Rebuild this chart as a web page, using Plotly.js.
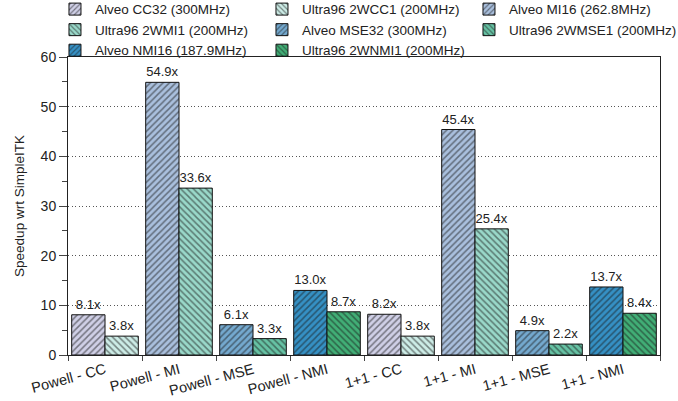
<!DOCTYPE html>
<html><head><meta charset="utf-8">
<script src="https://cdn.plot.ly/plotly-3.0.1.min.js"></script>
<style>html,body{margin:0;padding:0;background:#fff}#chart{width:678px;height:401px}</style>
</head><body><div id="chart"></div>
<script>
const categories = ["Powell - CC","Powell - MI","Powell - MSE","Powell - NMI","1+1 - CC","1+1 - MI","1+1 - MSE","1+1 - NMI"];
const seriesNames = ["Alveo CC32 (300MHz)","Ultra96 2WCC1 (200MHz)","Alveo MI16 (262.8MHz)","Ultra96 2WMI1 (200MHz)","Alveo MSE32 (300MHz)","Ultra96 2WMSE1 (200MHz)","Alveo NMI16 (187.9MHz)","Ultra96 2WNMI1 (200MHz)"];
const seriesCats = [["Powell - CC","1+1 - CC"],["Powell - CC","1+1 - CC"],["Powell - MI","1+1 - MI"],["Powell - MI","1+1 - MI"],["Powell - MSE","1+1 - MSE"],["Powell - MSE","1+1 - MSE"],["Powell - NMI","1+1 - NMI"],["Powell - NMI","1+1 - NMI"]];
const seriesValues = [[8.1,8.2],[3.8,3.8],[54.9,45.4],[33.6,25.4],[6.1,4.9],[3.3,2.2],[13.0,13.7],[8.7,8.4]];
const seriesColors = ["#cfcfe6","#ccece6","#a9bfdd","#99d8c9","#74a9cf","#66c2a4","#3590c4","#41ae76"];
const seriesHatch = ["/","\\","/","\\","/","\\","/","\\"];
const seriesGroup = ["a","b","a","b","a","b","a","b"];

const traces = seriesNames.map((n,i)=>({
  type:'bar', name:n, x:seriesCats[i], y:seriesValues[i],
  offsetgroup: seriesGroup[i],
  text: seriesValues[i].map(v=>v.toFixed(1)+'x'),
  textposition:'outside', cliponaxis:false,
  textfont:{size:13,color:'#222',family:'Liberation Sans, Arial, sans-serif'},
  marker:{color:seriesColors[i], line:{color:'#111',width:1},
    pattern:{shape:seriesHatch[i], fgcolor:'#1a1a1a', bgcolor:seriesColors[i], size:4.5, solidity:0.33, fillmode:'overlay'}}
}));

const layout = {
  width:678, height:401,
  margin:{l:68,r:18,t:57,b:46, autoexpand:false},
  barmode:'group', bargap:0.1, bargroupgap:0,
  font:{family:'Liberation Sans, Arial, sans-serif', size:13, color:'#222'},
  paper_bgcolor:'#fff', plot_bgcolor:'#fff',
  showlegend:true,
  legend:{orientation:'h', x:-0.022, xanchor:'left', y:1.212, yanchor:'top', entrywidth:162, entrywidthmode:'pixels',
    font:{size:13.5}, tracegroupgap:0, itemwidth:30, traceorder:'normal', bgcolor:'rgba(0,0,0,0)'},
  xaxis:{categoryorder:'array', categoryarray:categories, tickangle:-15, tickson:'boundaries', ticks:'outside', ticklen:5,
    showline:true, linecolor:'#222', linewidth:1, mirror:true, tickfont:{size:14.5}},
  yaxis:{range:[0,60], dtick:10, ticks:'outside', ticklen:8, showline:true, linecolor:'#222', linewidth:1, mirror:true,
    showgrid:true, gridcolor:'#555', griddash:'1px,2.5px', gridwidth:1, zeroline:false, tickfont:{size:14},
    minor:{dtick:5, ticks:'outside', ticklen:5, showgrid:false},
    title:{text:'Speedup wrt SimpleITK', font:{size:13.5}, standoff:12}}
};
Plotly.newPlot('chart', traces, layout, {displayModeBar:false, staticPlot:true});
</script></body></html>
